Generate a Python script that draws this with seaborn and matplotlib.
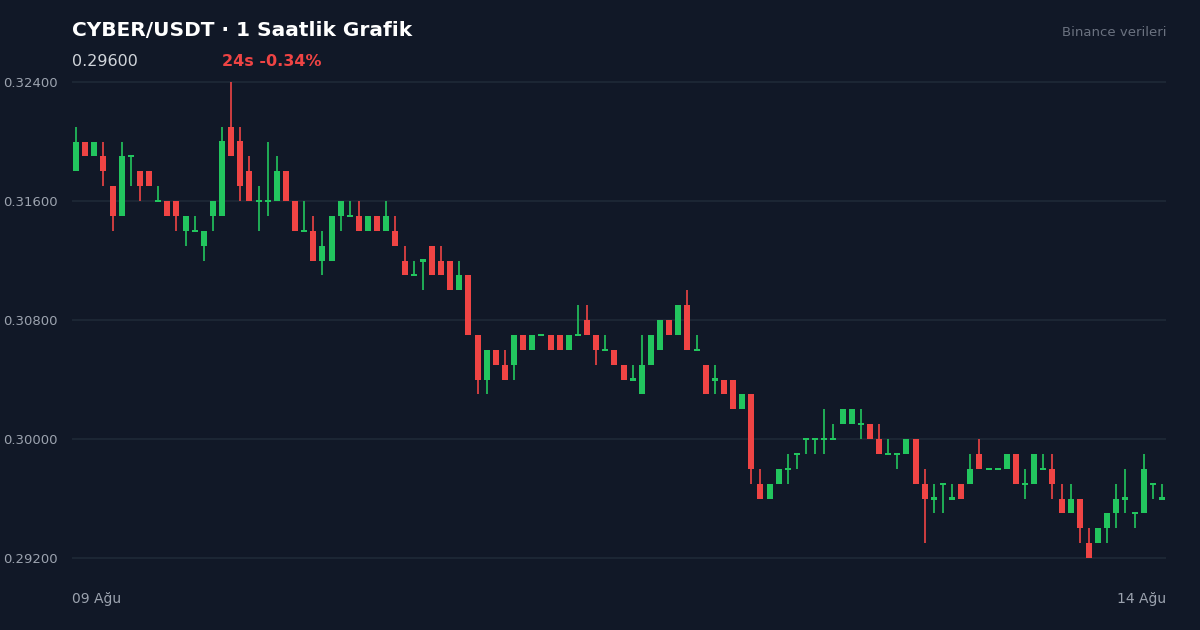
import matplotlib
matplotlib.use("Agg")
import matplotlib.pyplot as plt
import seaborn as sns
import numpy as np
import pandas as pd

opens = [.318,.320,.319,.319,.317,.315,.319,.318,.318,.316,.316,.316,.314,.314,.313,.315,.315,.321,.320,.318,
         .316,.316,.316,.318,.316,.314,.314,.312,.312,.315,.315,.315,.314,.315,.314,.314,.312,.311,.312,.313,
         .312,.312,.310,.311,.307,.304,.306,.305,.305,.307,.306,.307,.307,.307,.306,.307,.308,.307,.306,.306,
         .305,.304,.303,.305,.306,.308,.307,.309,.306,.305,.304,.304,.304,.302,.303,.297,.296,.297,.298,.299,
         .300,.300,.300,.300,.301,.301,.301,.301,.300,.299,.299,.299,.300,.297,.296,.297,.296,.297,.297,.299,
         .298,.298,.298,.299,.297,.297,.298,.298,.296,.295,.296,.293,.293,.294,.295,.296,.295,.295,.297,.296]
highs = [.321,.320,.320,.320,.317,.320,.319,.318,.318,.317,.316,.316,.315,.315,.314,.316,.321,.324,.321,.319,
         .317,.320,.319,.318,.316,.316,.315,.314,.315,.316,.316,.316,.315,.315,.316,.315,.313,.312,.312,.313,
         .313,.312,.312,.311,.307,.306,.306,.306,.307,.307,.307,.307,.307,.307,.307,.309,.309,.307,.307,.306,
         .305,.305,.307,.307,.308,.308,.309,.310,.307,.305,.305,.304,.304,.303,.303,.298,.297,.298,.299,.299,
         .300,.300,.302,.301,.302,.302,.302,.301,.301,.300,.299,.300,.300,.298,.297,.297,.297,.297,.299,.300,
         .298,.298,.299,.299,.298,.299,.299,.299,.297,.297,.296,.294,.294,.295,.297,.298,.295,.299,.297,.297]
lows  = [.318,.319,.319,.317,.314,.315,.317,.316,.317,.316,.315,.314,.313,.314,.312,.314,.315,.319,.316,.316,
         .314,.315,.316,.316,.314,.314,.312,.311,.312,.314,.315,.314,.314,.314,.314,.313,.311,.311,.310,.311,
         .311,.310,.310,.307,.303,.303,.305,.304,.304,.306,.306,.307,.306,.306,.306,.307,.307,.305,.306,.305,
         .304,.304,.303,.305,.306,.307,.307,.306,.306,.303,.303,.303,.302,.302,.297,.296,.296,.297,.297,.298,
         .299,.299,.299,.300,.301,.301,.300,.300,.299,.299,.298,.299,.297,.293,.295,.295,.296,.296,.297,.298,
         .298,.298,.298,.297,.296,.297,.298,.296,.295,.295,.293,.292,.293,.293,.294,.295,.294,.295,.296,.296]
closes = [.320,.319,.320,.318,.315,.319,.319,.317,.317,.316,.315,.315,.315,.314,.314,.316,.320,.319,.317,.316,
          .316,.316,.318,.316,.314,.314,.312,.313,.315,.316,.315,.314,.315,.314,.315,.313,.311,.311,.312,.311,
          .311,.310,.311,.307,.304,.306,.305,.304,.307,.306,.307,.307,.306,.306,.307,.307,.307,.306,.306,.305,
          .304,.304,.305,.307,.308,.307,.309,.306,.306,.303,.304,.303,.302,.303,.298,.296,.297,.298,.298,.299,
          .300,.300,.300,.300,.302,.302,.301,.300,.299,.299,.299,.300,.297,.296,.296,.297,.296,.296,.298,.298,
          .298,.298,.299,.297,.297,.299,.298,.297,.295,.296,.294,.292,.294,.295,.296,.296,.295,.298,.297,.296]
ytick_vals = [0.292, 0.300, 0.308, 0.316, 0.324]
x_labels = ["09 Ağu", "14 Ağu"]

BG = "#111827"
GREEN = "#22c55e"
RED = "#ef4444"

df = pd.DataFrame({"o": opens, "h": highs, "l": lows, "c": closes})
df["i"] = np.arange(len(df))
df["up"] = df["c"] >= df["o"]

sns.set_theme(style="dark", rc={"axes.facecolor": BG, "figure.facecolor": BG})
plt.rcParams['font.family'] = ['DejaVu Sans']

W, H = 1200, 630
fig = plt.figure(figsize=(12, 6.3), dpi=100)
ax = fig.add_axes([72 / W, 1 - 565 / H, (1166 - 72) / W, 490 / H])
ax.set_facecolor(BG)

px = 0.001 / 14.875
ax.set_ylim(0.292 - 7 * px, 0.324 + 7 * px)
ax.set_xlim(-0.44, len(df) - 1 + 0.44)

for v in ytick_vals:
    ax.axhline(v, color="#1f2937", lw=1.2, zorder=0)

colors = np.where(df["up"], GREEN, RED)
ax.vlines(df["i"], df["l"], df["h"], colors=colors, lw=1.2, zorder=2)
bottom = np.minimum(df["o"], df["c"])
height = np.maximum(np.abs(df["c"] - df["o"]), 2 * px)
ax.bar(df["i"], height, bottom=bottom - np.where(np.abs(df["c"] - df["o"]) < 1e-9, px, 0),
       width=0.66, color=colors, zorder=3, linewidth=0)

ax.set_yticks(ytick_vals)
ax.set_yticklabels([f"{v:.5f}" for v in ytick_vals], color="#9ca3af", fontsize=9.5)
ax.tick_params(axis="y", length=0, pad=10)
ax.set_xticks([])
for s in ax.spines.values():
    s.set_visible(False)
ax.grid(False)

fig.text(72 / W, 1 - 30 / H, "CYBER/USDT · 1 Saatlik Grafik", color="white", fontsize=14.5,
         fontweight="bold", va="center", ha="left")
fig.text(72 / W, 1 - 61 / H, "0.29600", color="#d1d5db", fontsize=11.5, va="center", ha="left")
fig.text(222 / W, 1 - 61 / H, "24s -0.34%", color=RED, fontsize=11.5, fontweight="bold", va="center", ha="left")
fig.text(1166 / W, 1 - 33 / H, "Binance verileri", color="#6b7280", fontsize=9.5, va="center", ha="right")
fig.text(72 / W, 1 - 599 / H, x_labels[0], color="#9ca3af", fontsize=10, va="center", ha="left")
fig.text(1166 / W, 1 - 599 / H, x_labels[1], color="#9ca3af", fontsize=10, va="center", ha="right")

fig.savefig("out.png", dpi=100, facecolor=BG)
